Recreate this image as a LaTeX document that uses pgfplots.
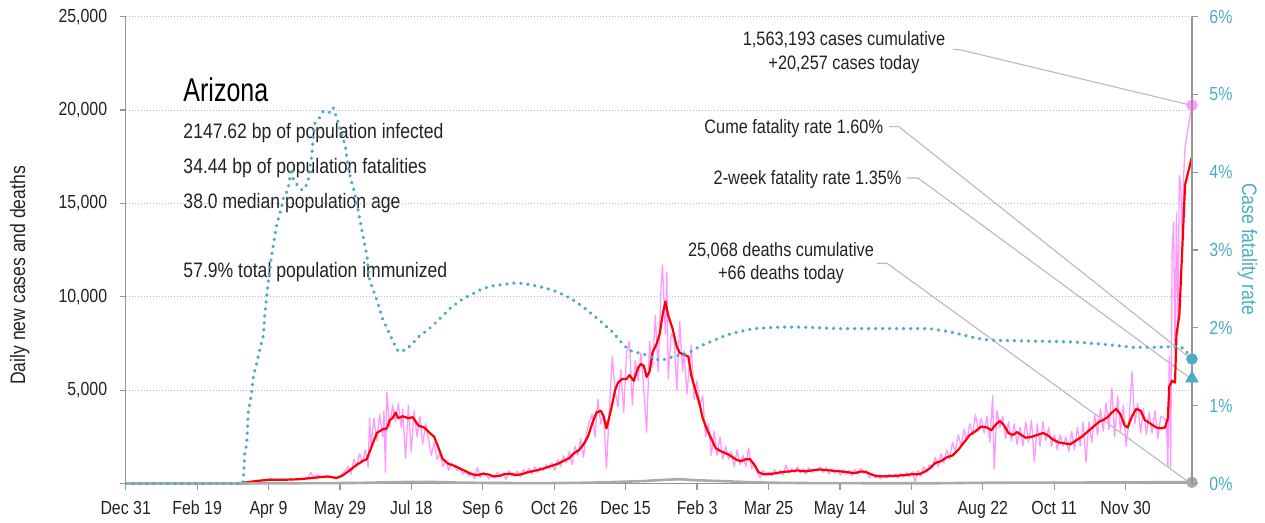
\documentclass[border=0pt]{standalone}
\usepackage{fontspec}
\setmainfont[FakeStretch=0.84]{Liberation Sans}
\newfontfamily\titlefont[FakeStretch=0.76]{Liberation Sans}
\usepackage{pgfplots}
\pgfplotsset{compat=1.18}
\definecolor{cfr}{RGB}{75,172,198}
\definecolor{pinkc}{RGB}{255,153,255}
\definecolor{axgray}{RGB}{150,150,150}
\definecolor{leader}{RGB}{185,185,185}
\definecolor{deathc}{RGB}{170,170,170}
\definecolor{txt}{RGB}{34,34,34}

\pgfplotsset{
  base/.style={
    at={(125.7bp,39.5bp)}, anchor=south west,
    scale only axis, width=1066.3bp, height=466.8bp,
    xmin=-0.9, xmax=741.8,
    clip=false,
    scaled x ticks=false, scaled y ticks=false,
    axis line style={axgray, line width=1.5bp},
    tick style={axgray, line width=1.2bp},
    major tick length=6bp,
    tick align=outside,
    tick label style={font=\fontsize{19}{22}\selectfont, text=txt},
    /pgf/number format/assume math mode=true,
  }
}

\begin{document}
\begin{tikzpicture}
\begin{scope}[x=1bp, y=-1bp, shift={(0bp,523bp)}]
  \node[anchor=base west, inner sep=0, font=\titlefont\fontsize{33}{36}\selectfont, text=black] at (183.3,101.7) {Arizona};
  \begin{scope}[every node/.style={anchor=base west, inner sep=0, font=\fontsize{21}{24}\selectfont, text=txt}]
    \node at (183.3,138.3) {2147.62 bp of population infected};
    \node at (183.3,173.3) {34.44 bp of population fatalities};
    \node at (183.3,208.3) {38.0 median population age};
    \node at (183.3,278) {57.9\% total population immunized};
  \end{scope}
  \begin{scope}[every node/.style={inner sep=0, font=\fontsize{19.5}{22}\selectfont, text=txt}]
    \node[anchor=base] at (844,46) {1,563,193 cases cumulative};
    \node[anchor=base] at (844,69.3) {+20,257 cases today};
    \node[anchor=base east] at (883.3,133.3) {Cume fatality rate 1.60\%};
    \node[anchor=base east] at (901.7,185) {2-week fatality rate 1.35\%};
    \node[anchor=base] at (781,256.7) {25,068 deaths cumulative};
    \node[anchor=base] at (781,280) {+66 deaths today};
  \end{scope}
  \node[rotate=90, anchor=base west, inner sep=0, font=\fontsize{21}{24}\selectfont, text=txt] at (25,385) {Daily new cases and deaths};
  \node[rotate=-90, anchor=base west, inner sep=0, font=\fontsize{21}{24}\selectfont, text=cfr] at (1242,183) {Case fatality rate};
  \begin{scope}[leader, line width=1.1bp]
    \draw (953,49.3) -- (961,50) -- (1190,105);
    \draw (889,126.7) -- (899,126.7) -- (1190,358);
    \draw (907,178) -- (918,178) -- (1190,378);
    \draw (877,263.3) -- (887,263.3) -- (1190,483);
  \end{scope}
\end{scope}

\begin{axis}[base,
  ymin=0, ymax=25000,
  axis x line*=bottom, axis y line*=left,
  xtick={-0.9,48.85,98.6,148.35,198.1,247.85,297.6,347.35,397.1,446.85,496.6,546.35,596.1,645.85,695.6},
  xticklabels={Dec 31,Feb 19,Apr 9,May 29,Jul 18,Sep 6,Oct 26,Dec 15,Feb 3,Mar 25,May 14,Jul 3,Aug 22,Oct 11,Nov 30},
  xticklabel style={yshift=-8bp},
  ytick={0,5000,10000,15000,20000,25000},
  yticklabels={{},{5,000},{10,000},{15,000},{20,000},{25,000}},
  yticklabel style={xshift=-9bp},
  ymajorgrids,
  major grid style={gray!55, line width=0.8bp, dash pattern=on 1bp off 2bp},
]
% daily new cases
\addplot[pinkc, line width=1.3bp, line join=round] coordinates {
(0,0)(70,0)(78,20)(82,60)(86,100)(90,150)(94,180)(97,210)(100,250)(103,180)(106,220)(110,200)(114,240)(118,210)(122,260)(126,300)(128,600)(130,330)(133,450)(136,300)(139,420)(142,380)(145,250)(148,350)(151,600)(154,900)(156,500)(158,1300)(160,900)(162,1600)(164,1100)(166,1800)(168,900)(169,3500)(170,2000)(172,3500)(174,2300)(176,3700)(178,2500)(179,3900)(180,600)(181,4900)(183,3000)(185,4200)(187,3300)(189,4300)(191,3000)(192,4000)(194,1340)(196,4200)(198,1700)(200,3900)(202,2500)(204,3600)(206,2100)(208,3200)(210,2400)(212,1500)(214,2200)(216,1300)(218,1600)(220,900)(222,1300)(224,700)(226,1100)(228,900)(230,700)(232,800)(234,500)(236,700)(238,400)(240,600)(242,250)(244,850)(246,300)(248,600)(250,500)(252,250)(254,450)(256,300)(258,600)(260,350)(262,550)(264,200)(266,700)(268,400)(270,500)(272,650)(274,350)(276,750)(278,550)(280,800)(282,500)(284,900)(286,600)(288,850)(290,700)(292,1000)(294,800)(296,1100)(298,700)(300,1300)(302,900)(304,1500)(306,1100)(308,1700)(310,1000)(312,2000)(314,1500)(316,2400)(318,1400)(320,2700)(322,3300)(324,3700)(326,2500)(328,4500)(330,3200)(332,3700)(334,800)(336,4000)(338,6800)(340,5000)(342,4100)(344,6100)(346,3800)(348,7000)(350,7600)(352,4200)(354,6600)(356,5500)(358,7000)(360,5000)(362,2750)(364,7600)(366,6200)(368,9000)(370,6000)(372,10500)(373,11700)(375,8000)(376,11300)(377,5600)(379,8000)(381,7850)(383,5000)(385,8700)(387,6000)(388,7100)(390,4800)(393,7400)(395,4500)(397,5500)(399,4200)(401,4700)(403,2500)(405,3200)(407,1500)(409,2800)(411,1500)(413,2500)(415,1300)(417,2000)(419,1300)(421,1700)(423,900)(425,1800)(427,1000)(429,1500)(431,900)(433,1900)(435,800)(437,1100)(439,600)(441,300)(443,700)(445,500)(447,600)(449,400)(451,750)(453,500)(455,700)(457,450)(459,1000)(461,550)(463,800)(465,600)(467,900)(469,550)(471,800)(473,500)(475,850)(477,600)(479,750)(481,650)(483,900)(485,600)(487,850)(489,500)(491,800)(493,550)(495,700)(497,450)(499,750)(501,500)(503,700)(505,400)(507,750)(509,500)(511,800)(513,550)(515,700)(517,300)(519,550)(521,300)(523,400)(525,250)(527,450)(529,300)(531,500)(533,350)(535,500)(537,300)(539,550)(541,350)(543,600)(545,350)(547,650)(549,100)(551,700)(553,400)(555,900)(557,600)(559,1000)(561,800)(563,1400)(565,900)(567,1600)(569,1100)(571,1800)(573,1300)(575,2200)(577,1700)(579,2600)(581,2000)(583,2900)(585,2300)(587,3200)(589,2600)(591,3700)(593,2800)(595,3500)(597,2700)(599,3600)(601,2200)(603,4700)(604,800)(606,3900)(608,3000)(610,3600)(612,2400)(614,3300)(616,2300)(618,3200)(620,2100)(622,3000)(624,2000)(626,3300)(628,2200)(630,3400)(632,1140)(634,3200)(636,2000)(638,3300)(640,2300)(642,3000)(644,2000)(646,2600)(648,1800)(650,2600)(652,2000)(654,2500)(656,1700)(658,2800)(660,1800)(662,3000)(664,2000)(666,3300)(668,1140)(670,3300)(672,2200)(674,3700)(676,2600)(678,4000)(680,2800)(682,4300)(684,2900)(686,5100)(688,2500)(690,4700)(692,2800)(694,4200)(696,2000)(698,3400)(700,6000)(702,3200)(704,4300)(706,2700)(708,4000)(710,2600)(712,3800)(714,2700)(716,3900)(718,2400)(720,3600)(722,3500)(724,3400)(725,900)(726,6800)(727,900)(728,12500)(729,14000)(730,7000)(731,14500)(732,8000)(733,16500)(734,16000)(735,13000)(736,16500)(737,18000)(738,18500)(739,19000)(741.8,20257)
};
% 7-day average
\addplot[red, line width=2.2bp, line join=round] coordinates {
(0,0)(75,0)(80,40)(85,80)(90,130)(95,170)(100,200)(110,200)(120,230)(130,300)(135,350)(140,370)(146,300)(150,420)(155,700)(160,1000)(164,1200)(167,1300)(170,1900)(174,2700)(178,2900)(181,2950)(183,3400)(185,3500)(187,3800)(189,3500)(192,3600)(196,3500)(199,3550)(203,3100)(207,3000)(211,2700)(214,2500)(218,1700)(220,1300)(224,1050)(228,950)(232,800)(236,650)(240,500)(244,450)(248,520)(252,480)(255,380)(259,400)(263,500)(267,520)(271,450)(275,500)(280,620)(285,700)(290,800)(295,930)(300,1050)(305,1250)(308,1350)(311,1600)(315,1800)(318,2100)(321,2500)(324,3200)(327,3800)(330,3900)(332,3600)(334,2950)(337,3900)(340,5000)(342,5400)(345,5600)(348,5600)(350,5800)(353,5500)(356,6200)(358,6400)(360,6300)(362,5700)(364,6000)(366,7000)(369,7500)(371,8000)(373,9000)(375,9750)(377,9000)(380,8300)(383,7300)(385,7000)(388,6900)(391,6800)(393,5800)(396,5000)(399,4200)(401,3500)(404,2900)(407,2400)(410,1900)(413,1750)(416,1650)(419,1550)(422,1400)(425,1250)(428,1200)(431,1300)(434,1300)(437,1000)(440,600)(443,500)(447,500)(452,550)(457,620)(462,650)(467,700)(472,650)(477,700)(482,750)(487,720)(492,680)(497,650)(502,600)(507,560)(512,650)(515,600)(518,500)(522,400)(527,380)(532,400)(537,420)(542,450)(547,500)(552,500)(556,650)(559,800)(563,1100)(567,1200)(571,1400)(575,1500)(579,1800)(583,2200)(587,2600)(591,2800)(595,3050)(599,3000)(602,2850)(605,3150)(608,3350)(611,3100)(614,2700)(617,2600)(620,2750)(623,2600)(626,2450)(630,2500)(634,2600)(638,2700)(641,2600)(645,2350)(649,2200)(653,2150)(657,2100)(661,2300)(665,2500)(668,2700)(671,2900)(674,3100)(677,3300)(680,3400)(683,3550)(686,3800)(689,4000)(692,3700)(695,3100)(697,3000)(700,3600)(703,4000)(706,3900)(709,3400)(713,3200)(717,3000)(720,2950)(723,3000)(725,3500)(726,5200)(728,5500)(730,5400)(731,8000)(733,9000)(735,12500)(737,16000)(741.8,17500)
};
% daily deaths
\addplot[deathc, line width=2.6bp, line join=round] coordinates {
(0,0)(80,0)(90,5)(100,10)(120,15)(140,20)(160,30)(180,60)(200,90)(215,80)(230,50)(250,30)(280,20)(300,25)(320,40)(340,80)(360,130)(375,200)(385,230)(395,180)(410,140)(430,80)(450,40)(480,20)(520,15)(560,10)(590,35)(620,45)(660,50)(700,55)(720,70)(741.8,66)
};
\addplot[only marks, mark=*, mark size=5.5bp, pinkc] coordinates {(741.8,20257)};
\addplot[only marks, mark=*, mark size=5.5bp, deathc] coordinates {(741.8,66)};
\end{axis}

\begin{axis}[base,
  ymin=0, ymax=6,
  axis y line*=right, axis x line=none, xtick=\empty,
  ytick={0,1,2,3,4,5,6},
  yticklabel={\pgfmathprintnumber{\tick}\%},
  yticklabel style={text=cfr, xshift=8bp},
]
\addplot[cfr, line width=3.4bp, line cap=round, dash pattern=on 0.3bp off 6.7bp] coordinates {
(-0.9,0)(81,0)(82,0.39)(83.4,0.51)(84.5,0.92)(86.8,1.15)(88,1.37)(90.3,1.54)(92.6,1.73)(95,1.9)(96,2.18)(97.3,2.4)(98.4,2.59)(100.8,2.94)(104,3.3)(107.7,3.56)(109,3.67)(112,3.77)(114.7,4.05)(116,3.9)(118,3.85)(120.5,3.8)(122,3.77)(124,3.8)(126,3.88)(128.6,4.2)(130,4.5)(131,4.63)(134,4.7)(136.5,4.78)(139,4.76)(142.5,4.78)(143.6,4.83)(145,4.76)(148,4.59)(150,4.45)(152,4.35)(154,4.07)(156,3.9)(157.6,3.81)(161,3.51)(164,3.22)(167,2.94)(169,2.61)(174,2.36)(178,2.12)(184,1.88)(188,1.72)(190,1.69)(195,1.73)(200,1.82)(204,1.9)(210,1.98)(218,2.12)(225,2.25)(232,2.35)(239,2.42)(247,2.5)(255,2.54)(263,2.56)(271,2.58)(280,2.56)(292,2.51)(300,2.46)(309,2.38)(317,2.28)(325,2.16)(332,2.05)(339,1.93)(345,1.8)(350,1.71)(356,1.68)(362,1.65)(366,1.62)(371,1.58)(376,1.6)(380,1.63)(385,1.65)(390,1.67)(395,1.72)(401,1.78)(410,1.85)(418,1.91)(426,1.95)(436,1.99)(445,2.0)(455,2.01)(470,2.01)(497,1.99)(530,1.99)(559,1.99)(566,1.97)(573,1.95)(580,1.92)(589,1.88)(597,1.85)(606,1.84)(630,1.83)(659,1.82)(680,1.79)(701,1.75)(715,1.75)(729,1.76)(736,1.74)(741.8,1.6)
};
\addplot[only marks, mark=*, mark size=5.5bp, cfr] coordinates {(741.8,1.60)};
\addplot[only marks, mark=triangle*, mark size=7.5bp, cfr] coordinates {(741.8,1.35)};
\end{axis}

\pgfresetboundingbox
\path[use as bounding box] (0,0) rectangle (1265bp,523bp);
\end{tikzpicture}
\end{document}
